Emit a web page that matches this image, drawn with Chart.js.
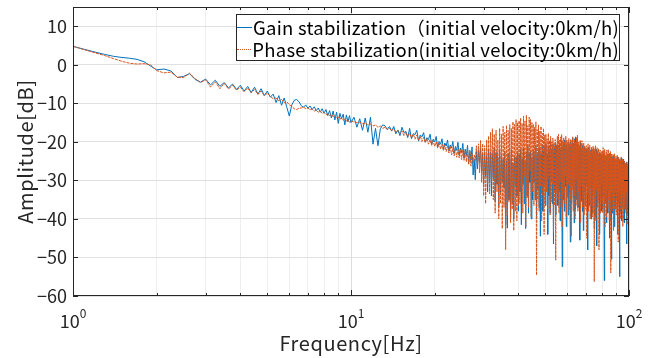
<!DOCTYPE html>
<html>
<head>
<meta charset="utf-8">
<script src="https://cdn.jsdelivr.net/npm/chart.js@4.4.0/dist/chart.umd.min.js"></script>
<style>
  body { margin: 0; background: #fff; overflow: hidden; }
  #wrap { position: relative; width: 662px; height: 358px; }
  #legend {
    position: absolute; left: 236px; top: 14px; width: 384px; height: 47px;
    box-sizing: border-box; border: 1px solid #262626; background: #fff;
    font-family: "Noto Sans CJK JP", "Noto Sans", sans-serif; font-size: 18.5px;
    letter-spacing: 0.25px; color: #000; padding-top: 1px;
  }
  .row { display: flex; align-items: center; height: 22px; white-space: nowrap; }
  .swatch { width: 15px; margin: 0 1px 0 0; height: 0; }
  .gain { border-top: 1px solid #0072BD; }
  .phase { border-top: 1px dotted #D95319; }
</style>
</head>
<body>
<div id="wrap">
  <canvas id="bodeChart" width="662" height="358"></canvas>
  <div id="legend">
    <div class="row"><span class="swatch gain"></span><span id="lgGain"></span></div>
    <div class="row"><span class="swatch phase"></span><span id="lgPhase"></span></div>
  </div>
</div>
<script>
// ====================================================
// Data
// ====================================================
const gainLabel = 'Gain stabilization（initial velocity:0km/h)';
const phaseLabel = 'Phase stabilization(initial velocity:0km/h)';
const xTitle = 'Frequency[Hz]';
const yTitle = 'Amplitude[dB]';

const xMajorTicks = [1, 10, 100];
const xExponents = ['0', '1', '2'];
const xMinorTicks = [2, 3, 4, 5, 6, 7, 8, 9, 20, 30, 40, 50, 60, 70, 80, 90];
const yTicks = [-60, -50, -40, -30, -20, -10, 0, 10];

// 1 - 2 Hz
const freqA = [1.0, 1.1, 1.2, 1.3, 1.4, 1.5, 1.6, 1.7, 1.8, 1.9, 2.0];
const gainA = [4.8, 4.0, 3.3, 2.7, 2.2, 1.9, 1.7, 1.4, 0.8, -0.3, -1.3];
const phaseA = [4.8, 3.9, 3.1, 2.4, 1.6, 0.9, 0.4, 0.2, 0.3, 0.0, -1.5];

// 2 - 5 Hz
const freqB = [2.125, 2.25, 2.375, 2.5, 2.625, 2.75, 2.875, 3.0, 3.125, 3.25, 3.375, 3.5,
  3.625, 3.75, 3.875, 4.0, 4.125, 4.25, 4.375, 4.5, 4.625, 4.75, 4.875, 5.0];
const gainB = [-1.1, -1.6, -3.3, -3.0, -2.3, -3.8, -4.5, -3.7, -5.2, -4.0, -5.6, -4.6,
  -6.0, -5.0, -6.4, -5.3, -6.8, -5.6, -7.2, -5.8, -7.6, -6.2, -8.0, -6.8];
const phaseB = [-2.1, -1.9, -3.2, -3.3, -2.2, -3.6, -4.6, -3.9, -5.8, -4.4, -6.2, -4.8,
  -6.3, -5.3, -6.6, -5.8, -7.0, -6.0, -7.3, -6.4, -7.7, -6.8, -8.0, -7.4];

// 5 - 10 Hz
const freqC = [5.125, 5.25, 5.375, 5.5, 5.625, 5.75, 5.875, 6.0, 6.125, 6.25, 6.375, 6.5,
  6.625, 6.75, 6.875, 7.0, 7.125, 7.25, 7.375, 7.5, 7.625, 7.75, 7.875, 8.0,
  8.125, 8.25, 8.375, 8.5, 8.625, 8.75, 8.875, 9.0, 9.125, 9.25, 9.375, 9.5,
  9.625, 9.75, 9.875, 10.0];
const gainC = [-8.4, -7.6, -9.8, -8.0, -10.5, -8.6, -11.0, -13.3, -10.4, -9.2, -9.0, -9.6,
  -10.6, -11.0, -10.4, -11.3, -10.7, -11.6, -10.9, -11.9, -11.2, -12.3, -11.4, -12.6,
  -11.6, -13.2, -11.9, -13.8, -12.0, -14.3, -12.3, -15.2, -12.6, -14.0, -12.8, -15.6,
  -13.0, -14.8, -13.2, -15.0];
const phaseC = [-8.2, -8.8, -8.6, -9.4, -9.0, -9.8, -9.6, -10.4, -10.8, -11.4, -11.6, -11.3,
  -11.2, -11.0, -11.4, -11.2, -11.7, -11.5, -12.0, -11.8, -12.3, -12.0, -12.6, -12.3,
  -12.9, -12.6, -13.2, -12.9, -13.5, -13.2, -13.8, -13.5, -14.1, -13.8, -14.4, -14.1,
  -14.6, -14.3, -14.9, -14.6];

// 10 - 28 Hz
const freqD = [10.25, 10.5, 10.75, 11.0, 11.25, 11.5, 11.75, 12.0,
  12.25, 12.5, 12.75, 13.0, 13.25, 13.5, 13.75, 14.0,
  14.25, 14.5, 14.75, 15.0, 15.25, 15.5, 15.75, 16.0,
  16.25, 16.5, 16.75, 17.0, 17.25, 17.5, 17.75, 18.0,
  18.25, 18.5, 18.75, 19.0, 19.25, 19.5, 19.75, 20.0,
  20.25, 20.5, 20.75, 21.0, 21.25, 21.5, 21.75, 22.0,
  22.25, 22.5, 22.75, 23.0, 23.25, 23.5, 23.75, 24.0,
  24.25, 24.5, 24.75, 25.0, 25.25, 25.5, 25.75, 26.0,
  26.25, 26.5, 26.75, 27.0, 27.25, 27.5, 27.75, 28.0];
const gainD = [-13.6, -16.2, -14.0, -17.0, -13.8, -17.5, -13.6, -20.6,
  -16.5, -21.0, -16.6, -15.6, -15.8, -16.8, -16.0, -17.2,
  -16.0, -17.9, -16.9, -18.4, -16.2, -17.6, -17.3, -18.9,
  -16.5, -19.2, -17.9, -18.1, -17.0, -19.8, -18.2, -18.7,
  -17.6, -20.1, -18.9, -19.4, -18.0, -20.7, -19.3, -20.0,
  -18.6, -21.4, -19.9, -20.6, -19.2, -22.0, -20.3, -21.1,
  -19.5, -22.4, -20.8, -21.6, -19.9, -23.0, -21.2, -22.2,
  -20.1, -23.5, -21.6, -22.8, -20.4, -24.3, -21.9, -23.6,
  -20.9, -25.6, -22.2, -24.8, -21.3, -28.6, -24.5, -29.8];
const phaseD = [-14.8, -15.0, -14.9, -15.3, -15.1, -15.6, -15.4, -15.9,
  -15.6, -16.2, -15.9, -16.5, -16.2, -16.8, -16.5, -17.1,
  -16.6, -17.6, -17.0, -17.9, -17.2, -18.4, -17.5, -18.6,
  -17.8, -18.9, -18.0, -19.3, -18.2, -19.6, -18.5, -19.9,
  -18.8, -20.2, -19.1, -20.6, -19.4, -20.9, -19.7, -21.2,
  -20.0, -21.6, -20.2, -21.9, -20.5, -22.3, -20.8, -22.5,
  -21.0, -22.9, -21.2, -23.4, -21.5, -23.6, -21.7, -24.0,
  -21.9, -24.2, -22.0, -24.6, -22.1, -24.8, -22.2, -25.2,
  -22.0, -25.8, -22.4, -26.3, -23.0, -25.5, -23.4, -24.8];

// 28 - 40 Hz
const freqE = [28.25, 28.5, 28.75, 29.0, 29.25, 29.5, 29.75, 30.0,
  30.25, 30.5, 30.75, 31.0, 31.25, 31.5, 31.75, 32.0,
  32.25, 32.5, 32.75, 33.0, 33.25, 33.5, 33.75, 34.0,
  34.25, 34.5, 34.75, 35.0, 35.25, 35.5, 35.75, 36.0,
  36.25, 36.5, 36.75, 37.0, 37.25, 37.5, 37.75, 38.0,
  38.25, 38.5, 38.75, 39.0, 39.25, 39.5, 39.75, 40.0];
const gainE = [-22.5, -27.0, -22.0, -25.5, -21.5, -28.0, -23.0, -31.0,
  -22.5, -29.0, -23.5, -33.0, -21.8, -30.5, -22.6, -34.0,
  -23.0, -29.5, -21.5, -35.5, -22.8, -31.0, -24.0, -37.0,
  -22.0, -33.5, -23.5, -30.5, -24.5, -32.0, -22.5, -41.5,
  -25.0, -42.4, -23.0, -35.0, -24.5, -39.5, -22.0, -36.0,
  -25.5, -40.0, -23.5, -31.5, -24.0, -34.0, -22.5, -38.0];
const phaseE = [-21.0, -26.0, -20.5, -28.0, -19.6, -30.5, -20.5, -34.0,
  -21.0, -36.0, -19.5, -31.0, -18.5, -33.5, -17.5, -30.0,
  -16.6, -35.0, -18.0, -38.5, -17.0, -33.0, -19.5, -40.0,
  -16.5, -36.0, -18.0, -42.5, -16.0, -37.0, -17.5, -48.0,
  -15.7, -39.0, -17.0, -35.5, -15.5, -41.0, -16.5, -37.5,
  -14.8, -43.0, -15.5, -38.0, -14.2, -40.5, -15.0, -36.5];

// 40 - 100 Hz
const freqF = [
  40.25, 40.5, 40.75, 41.0, 41.25, 41.5, 41.75, 42.0, 42.25, 42.5, 42.75, 43.0, 43.25, 43.5, 43.75, 44.0, 44.25, 44.5, 44.75, 45.0,
  45.25, 45.5, 45.75, 46.0, 46.25, 46.5, 46.75, 47.0, 47.25, 47.5, 47.75, 48.0, 48.25, 48.5, 48.75, 49.0, 49.25, 49.5, 49.75, 50.0,
  50.25, 50.5, 50.75, 51.0, 51.25, 51.5, 51.75, 52.0, 52.25, 52.5, 52.75, 53.0, 53.25, 53.5, 53.75, 54.0, 54.25, 54.5, 54.75, 55.0,
  55.25, 55.5, 55.75, 56.0, 56.25, 56.5, 56.75, 57.0, 57.25, 57.5, 57.75, 58.0, 58.25, 58.5, 58.75, 59.0, 59.25, 59.5, 59.75, 60.0,
  60.25, 60.5, 60.75, 61.0, 61.25, 61.5, 61.75, 62.0, 62.25, 62.5, 62.75, 63.0, 63.25, 63.5, 63.75, 64.0, 64.25, 64.5, 64.75, 65.0,
  65.25, 65.5, 65.75, 66.0, 66.25, 66.5, 66.75, 67.0, 67.25, 67.5, 67.75, 68.0, 68.25, 68.5, 68.75, 69.0, 69.25, 69.5, 69.75, 70.0,
  70.25, 70.5, 70.75, 71.0, 71.25, 71.5, 71.75, 72.0, 72.25, 72.5, 72.75, 73.0, 73.25, 73.5, 73.75, 74.0, 74.25, 74.5, 74.75, 75.0,
  75.25, 75.5, 75.75, 76.0, 76.25, 76.5, 76.75, 77.0, 77.25, 77.5, 77.75, 78.0, 78.25, 78.5, 78.75, 79.0, 79.25, 79.5, 79.75, 80.0,
  80.25, 80.5, 80.75, 81.0, 81.25, 81.5, 81.75, 82.0, 82.25, 82.5, 82.75, 83.0, 83.25, 83.5, 83.75, 84.0, 84.25, 84.5, 84.75, 85.0,
  85.25, 85.5, 85.75, 86.0, 86.25, 86.5, 86.75, 87.0, 87.25, 87.5, 87.75, 88.0, 88.25, 88.5, 88.75, 89.0, 89.25, 89.5, 89.75, 90.0,
  90.25, 90.5, 90.75, 91.0, 91.25, 91.5, 91.75, 92.0, 92.25, 92.5, 92.75, 93.0, 93.25, 93.5, 93.75, 94.0, 94.25, 94.5, 94.75, 95.0,
  95.25, 95.5, 95.75, 96.0, 96.25, 96.5, 96.75, 97.0, 97.25, 97.5, 97.75, 98.0, 98.25, 98.5, 98.75, 99.0, 99.25, 99.5, 99.75, 100.0];
const gainF = [
  -23.5, -33.0, -22.0, -41.5, -24.5, -31.0, -21.5, -36.0, -25.0, -42.5, -22.6, -34.0, -21.0, -38.5, -23.0, -30.5, -22.4, -40.0, -24.0, -35.0,
  -22.5, -30.5, -24.0, -35.0, -21.0, -40.0, -23.5, -32.5, -22.0, -37.0, -21.6, -44.5, -23.2, -33.5, -20.8, -38.0, -22.5, -31.0, -21.4, -36.5,
  -20.5, -31.5, -23.0, -44.0, -21.5, -34.0, -22.5, -38.5, -20.0, -30.0, -21.8, -36.0, -20.6, -46.5, -22.0, -33.0, -20.4, -39.0, -21.2, -32.0,
  -21.0, -36.5, -22.5, -33.0, -20.5, -40.5, -21.4, -35.5, -19.8, -52.4, -21.5, -35.0, -20.2, -38.0, -19.5, -31.5, -21.0, -42.0, -20.6, -34.0,
  -22.0, -39.0, -20.0, -33.5, -21.0, -46.0, -19.6, -36.0, -20.8, -31.0, -19.0, -34.5, -20.4, -41.0, -19.2, -37.5, -18.7, -30.5, -20.0, -35.0,
  -20.5, -37.0, -22.0, -32.0, -21.0, -45.5, -20.2, -34.0, -23.0, -35.5, -21.5, -38.0, -20.8, -43.0, -22.2, -33.0, -21.4, -36.5, -22.6, -31.5,
  -22.0, -31.5, -23.5, -48.0, -21.5, -34.0, -22.5, -36.5, -23.0, -32.0, -22.2, -40.0, -21.8, -35.0, -23.4, -38.5, -22.0, -33.5, -23.2, -42.5,
  -22.5, -39.5, -24.0, -33.5, -22.0, -47.0, -23.5, -35.0, -22.5, -31.0, -23.8, -37.0, -22.8, -44.0, -23.0, -34.5, -24.2, -38.0, -23.4, -32.5,
  -24.5, -37.5, -23.0, -34.0, -25.0, -56.0, -23.5, -36.0, -24.5, -32.5, -23.8, -41.0, -24.6, -35.0, -23.2, -38.5, -25.2, -33.0, -24.0, -45.0,
  -23.0, -40.5, -25.5, -35.0, -24.0, -50.5, -25.0, -33.0, -24.0, -38.5, -23.6, -36.0, -25.2, -42.0, -24.4, -34.0, -25.8, -37.5, -24.6, -32.5,
  -25.5, -34.5, -24.0, -44.0, -26.0, -36.0, -24.5, -31.5, -25.5, -55.0, -24.8, -38.0, -25.6, -35.0, -24.2, -40.5, -26.2, -33.5, -25.0, -37.0,
  -24.5, -35.5, -26.0, -41.0, -25.0, -33.0, -26.5, -37.5, -25.5, -33.0, -26.8, -46.5, -25.2, -35.0, -26.4, -39.0, -25.8, -53.5, -26.0, -36.0];
const phaseF = [
  -14.5, -36.0, -13.8, -31.5, -15.2, -38.5, -13.3, -29.0, -14.6, -42.0, -13.1, -34.5, -15.8, -37.0, -13.6, -27.5, -14.2, -39.5, -15.0, -33.0,
  -15.4, -36.5, -16.2, -30.0, -14.8, -54.6, -16.8, -35.0, -15.6, -38.0, -17.2, -31.5, -16.0, -40.5, -17.8, -34.0, -16.5, -44.0, -18.2, -36.0,
  -18.0, -33.0, -19.2, -37.5, -17.8, -29.5, -19.6, -39.0, -18.6, -35.5, -20.0, -31.0, -19.0, -43.5, -20.4, -36.5, -19.4, -50.7, -20.8, -33.5,
  -18.5, -35.0, -18.0, -38.5, -19.5, -30.5, -18.7, -37.0, -18.1, -42.0, -19.7, -33.5, -18.9, -36.0, -20.0, -29.0, -18.5, -39.5, -19.5, -34.5,
  -20.0, -31.0, -19.1, -37.5, -20.5, -35.0, -19.3, -44.5, -20.3, -32.5, -18.7, -38.0, -20.7, -34.0, -19.5, -40.0, -20.1, -30.0, -18.9, -36.5,
  -18.3, -38.0, -20.0, -33.0, -21.0, -36.5, -19.5, -41.0, -20.5, -31.5, -19.7, -37.0, -21.5, -34.5, -20.3, -39.0, -21.1, -32.0, -21.5, -37.5,
  -21.0, -45.0, -22.0, -33.5, -20.5, -38.0, -21.7, -35.0, -20.9, -40.0, -22.5, -31.5, -21.3, -36.5, -22.0, -39.5, -21.1, -34.0, -21.5, -56.3,
  -22.0, -34.0, -21.0, -40.5, -22.7, -32.5, -21.5, -37.0, -23.0, -35.5, -21.7, -48.0, -22.5, -33.0, -22.1, -38.5, -23.3, -31.0, -22.5, -36.0,
  -22.5, -38.5, -21.5, -33.5, -23.0, -36.0, -21.9, -42.0, -23.5, -34.0, -22.7, -39.5, -22.1, -32.5, -23.3, -37.0, -22.0, -35.0, -23.0, -40.5,
  -23.5, -35.5, -22.5, -54.0, -23.9, -33.0, -23.0, -38.0, -24.5, -36.0, -23.3, -43.0, -24.0, -34.0, -23.1, -37.5, -24.5, -32.5, -23.7, -39.0,
  -24.5, -38.0, -23.5, -34.0, -25.0, -46.0, -24.0, -36.5, -25.5, -33.0, -24.3, -40.0, -25.1, -35.0, -23.9, -37.5, -25.7, -33.5, -24.5, -42.0,
  -24.5, -40.0, -26.0, -35.0, -25.0, -37.5, -26.5, -34.0, -25.5, -38.5, -26.1, -33.0, -25.3, -41.5, -26.7, -35.5, -25.9, -37.0, -27.0, -36.0];

const FONT = '"Noto Sans CJK JP", "Noto Sans", sans-serif';

// ====================================================
// Build point lists from the arrays above
// ====================================================
const freqHz = [...freqA, ...freqB, ...freqC, ...freqD, ...freqE, ...freqF];
const gainDb = [...gainA, ...gainB, ...gainC, ...gainD, ...gainE, ...gainF];
const phaseDb = [...phaseA, ...phaseB, ...phaseC, ...phaseD, ...phaseE, ...phaseF];

function toPoints(values) {
    return freqHz.map((f, i) => ({ x: f, y: values[i] }));
}

document.getElementById('lgGain').textContent = gainLabel;
document.getElementById('lgPhase').textContent = phaseLabel;

// ====================================================
// MATLAB style box, inward ticks, x labels and titles
// ====================================================
const matlabAxes = {
    id: 'matlabAxes',
    afterDraw(chart) {
        const { ctx, chartArea: a, scales } = chart;
        const xs = scales.x;
        const ys = scales.y;
        ctx.save();
        ctx.strokeStyle = '#262626';
        ctx.lineWidth = 1;
        ctx.beginPath();
        xs.ticks.forEach(t => {
            const px = Math.round(xs.getPixelForValue(t.value)) + 0.5;
            const len = xMajorTicks.includes(t.value) ? 6 : 3;
            ctx.moveTo(px, a.bottom); ctx.lineTo(px, a.bottom - len);
            ctx.moveTo(px, a.top); ctx.lineTo(px, a.top + len);
        });
        ys.ticks.forEach(t => {
            const py = Math.round(ys.getPixelForValue(t.value)) + 0.5;
            ctx.moveTo(a.left, py); ctx.lineTo(a.left + 5, py);
            ctx.moveTo(a.right, py); ctx.lineTo(a.right - 5, py);
        });
        ctx.stroke();
        ctx.strokeRect(Math.round(a.left) + 0.5, Math.round(a.top) + 0.5,
            Math.round(a.right - a.left) - 1, Math.round(a.bottom - a.top) - 1);

        // x tick labels: 10 with raised exponent
        ctx.fillStyle = '#262626';
        ctx.textBaseline = 'alphabetic';
        ctx.textAlign = 'left';
        xMajorTicks.forEach((v, i) => {
            const px = xs.getPixelForValue(v);
            ctx.font = '18px ' + FONT;
            const wBase = ctx.measureText('10').width;
            ctx.font = '12px ' + FONT;
            const wExp = ctx.measureText(xExponents[i]).width;
            const x0 = px - (wBase + wExp) / 2;
            ctx.font = '18px ' + FONT;
            ctx.fillText('10', x0, 328);
            ctx.font = '12px ' + FONT;
            ctx.fillText(xExponents[i], x0 + wBase, 318);
        });

        // axis titles
        ctx.font = '20px ' + FONT;
        ctx.letterSpacing = '0.6px';
        ctx.textAlign = 'center';
        ctx.fillText(xTitle, (a.left + a.right) / 2, 351);
        ctx.translate(25, (a.top + a.bottom) / 2);
        ctx.rotate(-Math.PI / 2);
        ctx.textBaseline = 'middle';
        ctx.fillText(yTitle, 0, 0);
        ctx.restore();
    }
};

// ====================================================
// Chart
// ====================================================
function initializeChart() {
    const canvas = document.getElementById('bodeChart');

    new Chart(canvas, {
        type: 'line',
        data: {
            datasets: [{
                label: gainLabel,
                data: toPoints(gainDb),
                borderColor: '#0072BD',
                borderWidth: 1,
                pointRadius: 0,
                tension: 0,
                borderJoinStyle: 'round',
                order: 1
            }, {
                label: phaseLabel,
                data: toPoints(phaseDb),
                borderColor: '#D95319',
                borderWidth: 1,
                borderDash: [3, 1],
                pointRadius: 0,
                tension: 0,
                borderJoinStyle: 'round',
                order: 0
            }]
        },
        options: {
            responsive: false,
            animation: false,
            events: [],
            layout: { padding: { left: 0, right: 33, top: 7, bottom: 0 } },
            plugins: {
                legend: { display: false },
                tooltip: { enabled: false }
            },
            scales: {
                x: {
                    type: 'logarithmic',
                    min: 1,
                    max: 100,
                    afterBuildTicks: (scale) => {
                        scale.ticks = [...xMajorTicks, ...xMinorTicks]
                            .sort((p, q) => p - q)
                            .map(v => ({ value: v }));
                    },
                    afterFit: (scale) => {
                        scale.height = 62;
                        scale.paddingLeft = 0;
                        scale.paddingRight = 0;
                    },
                    ticks: { display: false },
                    border: { display: false },
                    grid: {
                        drawTicks: false,
                        color: (c) => (c.tick && xMajorTicks.includes(c.tick.value)) ? '#dcdcdc' : '#efefef'
                    }
                },
                y: {
                    min: -60,
                    max: 15,
                    afterBuildTicks: (scale) => {
                        scale.ticks = yTicks.map(v => ({ value: v }));
                    },
                    afterFit: (scale) => {
                        scale.width = 73;
                        scale.paddingTop = 0;
                        scale.paddingBottom = 0;
                    },
                    border: { display: false },
                    grid: { drawTicks: false, color: '#e0e0e0' },
                    ticks: {
                        padding: 6,
                        color: '#262626',
                        font: { family: FONT, size: 18 },
                        callback: (v) => v < 0 ? '\u2212' + Math.abs(v) : String(v)
                    }
                }
            }
        },
        plugins: [matlabAxes]
    });
}

initializeChart();
</script>
</body>
</html>
